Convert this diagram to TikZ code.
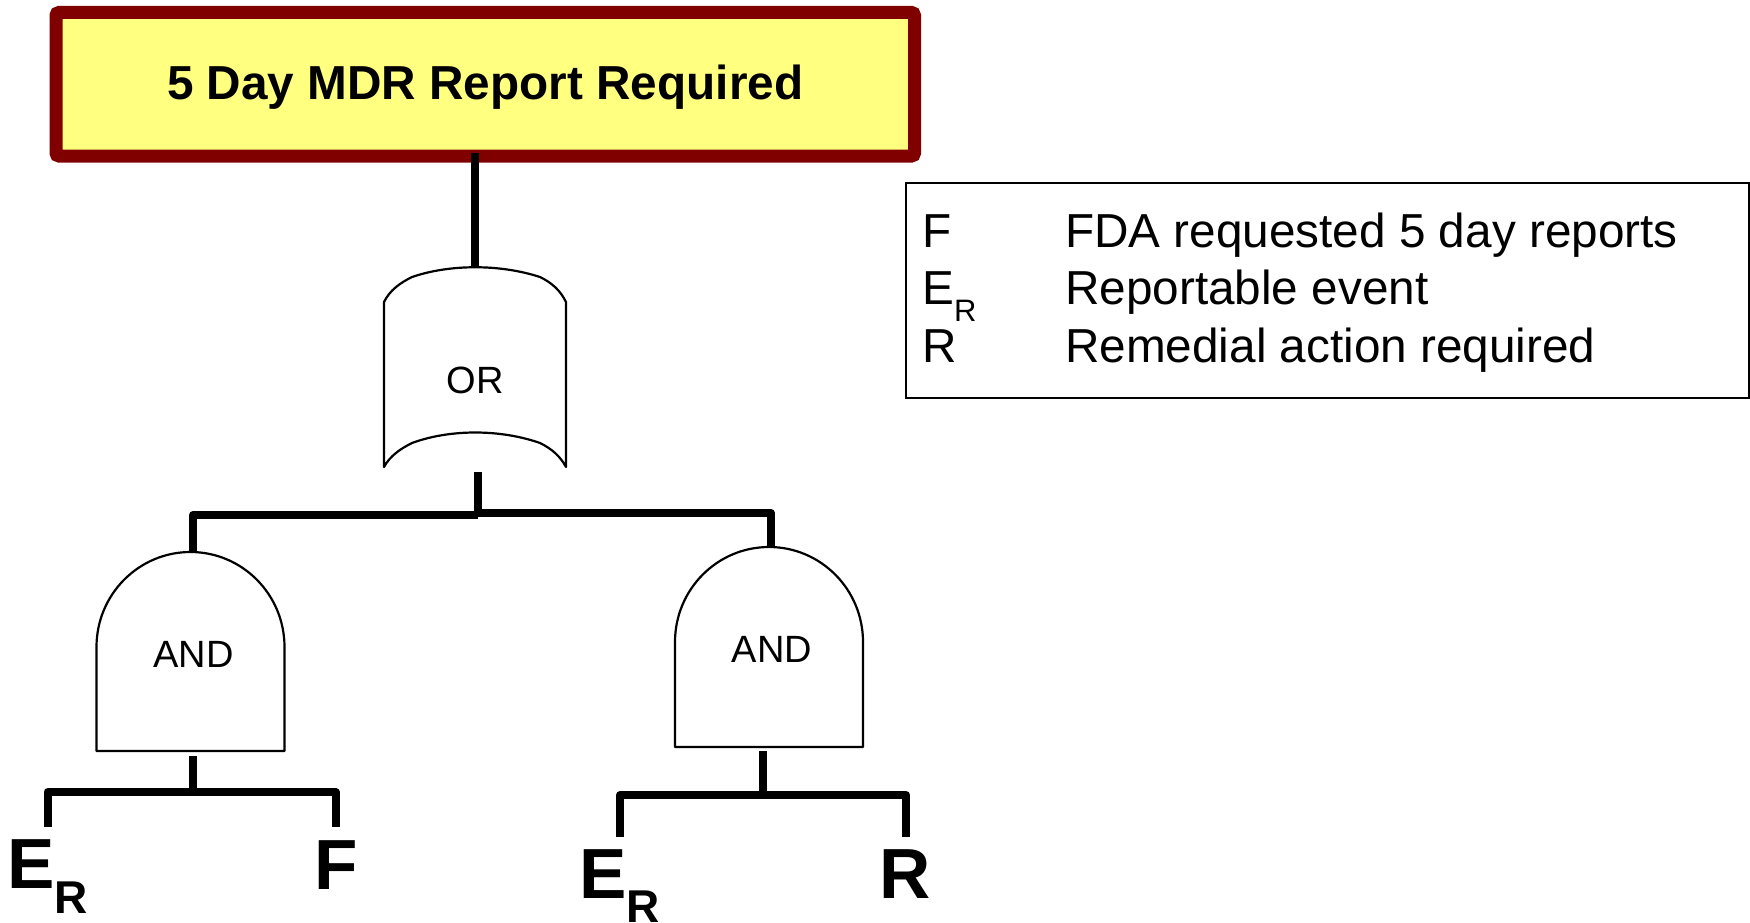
\documentclass[tikz,border=0pt]{standalone}
\usepackage{fontspec}
\setmainfont{Liberation Sans}
\definecolor{boxred}{HTML}{800000}
\definecolor{boxyellow}{HTML}{FFFF80}
\newcommand{\fsz}[1]{\fontsize{#1pt}{#1pt}\selectfont}
\tikzset{
  x=1pt,y=-1pt,
  wire/.style={draw=black,line width=8pt,line join=round},
  gate/.style={draw=black,line width=2.2pt,line join=round,fill=white},
  gatetext/.style={font=\fsz{38},inner sep=0pt,anchor=center},
  leaf/.style={font=\fsz{71}\bfseries,inner sep=0pt,anchor=base west},
  leafsub/.style={font=\fsz{46}\bfseries,inner sep=0pt,anchor=base west},
  legendtext/.style={font=\fsz{47.7},inner sep=0pt,anchor=base west},
  legendsub/.style={font=\fsz{31},inner sep=0pt,anchor=base west},
}
\begin{document}
\begin{tikzpicture}
\useasboundingbox (0,0) rectangle (1750,923);
% top event
\node[draw=boxred,fill=boxyellow,line width=13pt,rounded corners=3pt,minimum width=858.5pt,minimum height=143.5pt,inner sep=0pt,text height=35pt,text depth=3.5pt,font=\fsz{47.7}\bfseries] (top) at (485.25,84.25) {5 Day MDR Report Required};
% gates
\draw[gate] (384,467) -- (384,302) .. controls (390,290) and (400,283) .. (412,277) .. controls (450,264) and (500,264) .. (540,277) .. controls (552,283) and (560,290) .. (566,302) -- (566,467) .. controls (560,456) and (552,449) .. (540,443) .. controls (500,429) and (450,429) .. (412,443) .. controls (400,449) and (390,456) .. cycle;
\node[gatetext] (or) at (475,380) {OR};
\draw[gate] (96.5,751) -- (96.5,647) arc[start angle=180,end angle=0,x radius=94pt,y radius=95pt] -- (284.5,751) -- cycle;
\node[gatetext] (and1) at (193.5,654) {AND};
\draw[gate] (675,747) -- (675,642) arc[start angle=180,end angle=0,x radius=94pt,y radius=95pt] -- (863,747) -- cycle;
\node[gatetext] (and2) at (772,649) {AND};
% connector points
\coordinate (ortop) at (475,267);
\coordinate (topbase) at (475,153);
\coordinate (orstub) at (478,472);
\coordinate (orjoinL) at (478,515);
\coordinate (orjoinR) at (478,513);
\coordinate (and1top) at (193,552);
\coordinate (and2top) at (771,547);
\coordinate (and1stub) at (193,756);
\coordinate (and1join) at (193,792);
\coordinate (and1L) at (47.5,827);
\coordinate (and1R) at (335.5,827);
\coordinate (and2stub) at (763,751);
\coordinate (and2join) at (763,795);
\coordinate (and2L) at (620,837);
\coordinate (and2R) at (906,837);
% connectors
\draw[wire] (topbase) -- (ortop);
\draw[wire] (orstub) -- (orjoinL);
\draw[wire] (orjoinL) -| (and1top);
\draw[wire] (orjoinR) -| (and2top);
\draw[wire] (and1stub) -- (and1join);
\draw[wire] (and1L) |- (and1join) -| (and1R);
\draw[wire] (and2stub) -- (and2join);
\draw[wire] (and2L) |- (and2join) -| (and2R);
% leaf labels
\node[leaf] (e1) at (7,888) {E};
\node[leafsub] (e1r) at (54,913) {R};
\node[leaf] (f1) at (314,889) {F};
\node[leaf] (e2) at (579,898) {E};
\node[leafsub] (e2r) at (626,922) {R};
\node[leaf] (r2) at (879,898) {R};
% legend
\node[draw=black,line width=2pt,minimum width=843pt,minimum height=215pt,inner sep=0pt] (legend) at (1327,290) {};
\node[legendtext] (l1a) at (922,247) {F};
\node[legendtext] (l1b) at (1065,247) {FDA requested 5 day reports};
\node[legendtext] (l2a) at (922,304) {E};
\node[legendsub] (l2s) at (954,321) {R};
\node[legendtext] (l2b) at (1065,304) {Reportable event};
\node[legendtext] (l3a) at (922,362) {R};
\node[legendtext] (l3b) at (1065,362) {Remedial action required};
\end{tikzpicture}
\end{document}
